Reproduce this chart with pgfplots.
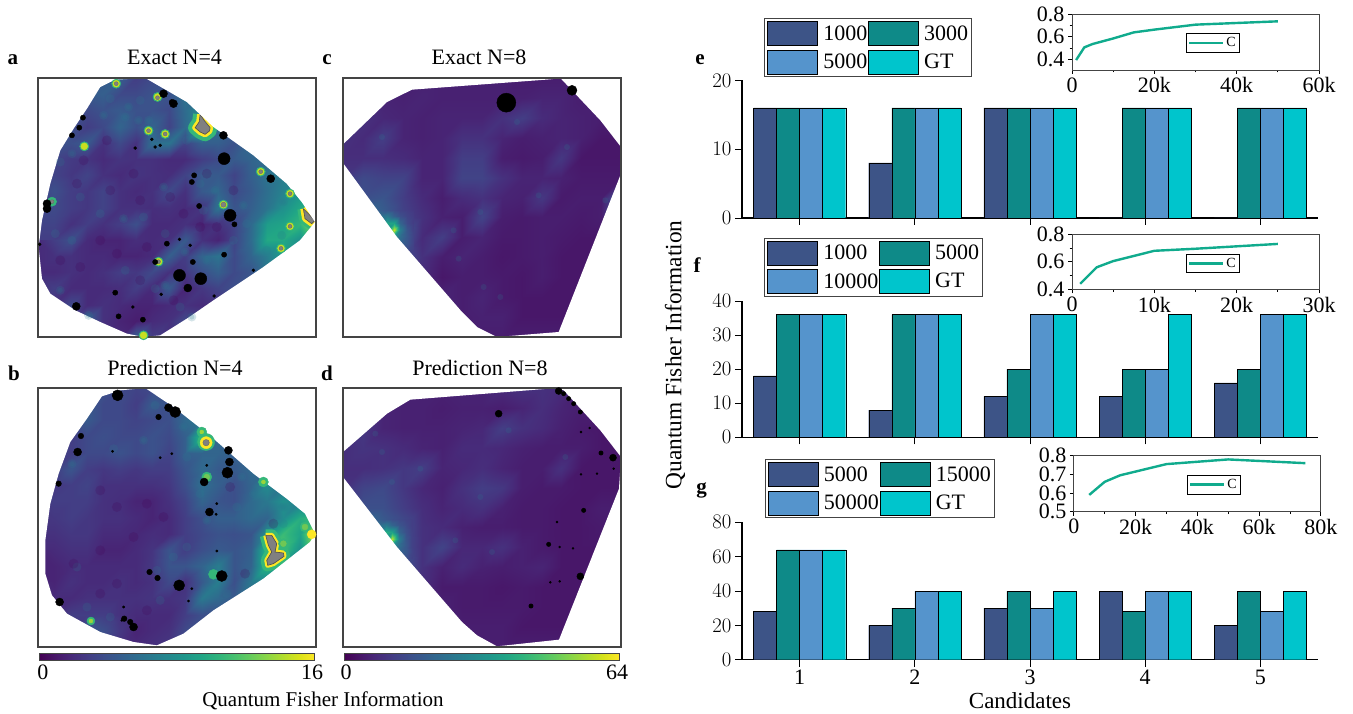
\documentclass[border=0pt]{standalone}
\usepackage{fontspec}
\setmainfont{Liberation Serif}
\usepackage{pgfplots}
\pgfplotsset{compat=1.18}
\newcommand\fa{\fontsize{22}{24}\selectfont}
\newcommand\fc{\fontsize{21}{23}\selectfont}
\newcommand\fb{\fontsize{21}{23}\selectfont\bfseries}
\definecolor{b1}{HTML}{3D5487}
\definecolor{b2}{HTML}{0E8A88}
\definecolor{b3}{HTML}{5594CC}
\definecolor{b4}{HTML}{00C5CC}
\definecolor{ln}{HTML}{10AB8D}
\definecolor{frm}{HTML}{444444}
\definecolor{hg}{HTML}{35B779}
\definecolor{hy}{HTML}{C8E020}
\definecolor{hb}{HTML}{FDE725}
\definecolor{gr}{HTML}{808080}
\definecolor{lt}{HTML}{2A788E}
\definecolor{dk}{HTML}{440154}
\pgfplotsset{
  mapbase/.style={scale only axis,width=278pt,height=259pt,y dir=reverse,
    xtick=\empty,ytick=\empty,axis on top,colormap/viridis,point meta min=0,point meta max=100,
    axis line style={frm,line width=1.2pt},ymin=113,ymax=890},
  mapab/.style={mapbase,xmin=113,xmax=948},
  mapcd/.style={mapbase,xmin=68,xmax=902},
  cbar/.style={colorbar horizontal,colorbar style={at={(0.0054,-0.0232)},anchor=north west,
     scale only axis,width=275pt,height=7pt,xtick={#1},xticklabels={},
     axis line style={frm,line width=.8pt},xtick style={draw=none}}},
  grid18/.style={surf,shader=interp,mesh/cols=18,forget plot},
  grid15/.style={surf,shader=interp,mesh/cols=15,forget plot},
  grid7/.style={surf,shader=interp,mesh/cols=7,forget plot},
  blk/.style={only marks,mark=*,black,mark size=#1,forget plot},
  soft/.style 2 args={only marks,mark=*,forget plot,mark size=#2,mark options={draw opacity=0,fill=#1,fill opacity=.2}},
  mask/.style={fill=white,draw=none,even odd rule,forget plot},
  hot/.style 2 args={only marks,mark=*,forget plot,mark size=#1,mark options={draw=#2,fill=#2}},
  barax/.style={scale only axis,width=576pt,xmin=.5,xmax=5.5,xtick={1,2,3,4,5},
    axis x line*=bottom,axis y line*=left,tick align=outside,
    axis line style={-,line width=1.1pt},tick style={black,line width=.8pt},
    major tick length=7pt,
    tick label style={font=\fa},
    ybar=0pt,bar width=23.05pt,ymin=0,enlarge x limits=false,
    legend columns=2,legend cell align=left,
    legend image code/.code={\draw[##1,line width=.8pt] (0pt,-12pt) rectangle (50pt,12pt);\path (54pt,0pt) -- (54pt,0pt);},
    legend style={font=\fa,draw=frm,line width=1pt,inner sep=2.5pt,anchor=north west,
      nodes={inner xsep=1pt,inner ysep=0pt},row sep=3.5pt,column sep=0pt}},
  ser1/.style={fill=b1,draw=black},
  ser2/.style={fill=b2,draw=black},
  ser3/.style={fill=b3,draw=black},
  ser4/.style={fill=b4,draw=black},
  inset/.style={scale only axis,axis line style={frm,line width=.9pt},
    tick align=outside,major tick length=4pt,minor tick length=2.5pt,tick style={black,line width=.7pt},
    xtick pos=bottom,ytick pos=left,
    tick label style={font=\fa},
    yticklabel style={inner ysep=0pt},
    legend image code/.code={\draw[##1] (0pt,0pt) -- (34pt,0pt);},
    legend style={font=\fontsize{14}{15}\selectfont,draw=black,line width=.8pt,inner xsep=2pt,inner ysep=2pt,anchor=north west}},
  curve/.style={ln,line width=2.4pt,no marks},
}
\begin{document}
\begin{tikzpicture}[x=1pt,y=1pt]
\path[use as bounding box] (0,0) rectangle (1353,713);
% ---------- panel a
\begin{axis}[mapab,at={(38pt,376pt)},anchor=south west]
\addplot[grid18,point meta=\thisrowno{0}] table[header=false,row sep=\\,
  x expr={113+49.118*mod(\coordindex,18)},y expr={113+48.5625*floor(\coordindex/18)}] {
22\\22\\22\\25\\28\\30\\18\\22\\25\\30\\30\\30\\30\\30\\30\\30\\30\\30\\
22\\22\\25\\28\\30\\22\\22\\25\\25\\38\\35\\32\\30\\30\\30\\30\\30\\30\\
22\\22\\25\\22\\25\\28\\25\\25\\22\\35\\48\\40\\32\\30\\30\\30\\30\\30\\
22\\22\\24\\18\\22\\32\\24\\32\\20\\34\\72\\35\\28\\30\\30\\30\\30\\30\\
22\\25\\24\\28\\14\\22\\14\\36\\38\\20\\30\\30\\25\\34\\35\\35\\35\\35\\
20\\20\\17\\15\\12\\15\\14\\14\\12\\12\\18\\22\\28\\32\\36\\38\\38\\38\\
20\\20\\16\\20\\14\\12\\15\\14\\13\\20\\28\\28\\20\\30\\38\\42\\45\\45\\
20\\24\\18\\16\\20\\14\\12\\14\\22\\14\\28\\32\\22\\28\\36\\44\\52\\55\\
20\\22\\18\\16\\20\\14\\14\\13\\14\\12\\15\\38\\26\\30\\38\\50\\60\\80\\
20\\20\\14\\18\\14\\18\\24\\12\\12\\14\\10\\14\\20\\34\\55\\58\\66\\90\\
18\\18\\24\\12\\10\\10\\13\\12\\14\\28\\14\\10\\20\\35\\60\\60\\50\\50\\
12\\14\\14\\12\\12\\10\\10\\12\\30\\18\\32\\38\\22\\32\\42\\55\\50\\50\\
12\\12\\14\\12\\14\\18\\16\\22\\14\\16\\24\\30\\22\\26\\40\\40\\40\\40\\
12\\18\\12\\12\\12\\13\\18\\12\\28\\10\\16\\20\\24\\25\\30\\35\\35\\35\\
14\\14\\22\\12\\14\\12\\10\\10\\12\\14\\12\\14\\18\\22\\25\\30\\30\\30\\
14\\14\\20\\30\\14\\10\\8\\12\\14\\22\\25\\20\\20\\20\\20\\20\\20\\20\\
14\\14\\20\\25\\14\\12\\30\\18\\14\\20\\20\\20\\20\\20\\20\\20\\20\\20\\
};
% texture
\addplot[soft={lt}{4.5}] coordinates {(375,230)(385,200)(415,240)(445,240)(310,225)(420,180)(330,175)(215,340)(180,365)(490,440)(370,535)(430,530)(165,580)(215,600)(375,690)(180,750)(265,825)(495,580)(555,635)(620,660)(645,450)(730,495)(740,550)(610,510)(495,735)(465,745)(575,830)(850,485)(845,585)(800,630)(240,470)(300,520)(560,300)(600,430)(700,600)(540,800)};
\addplot[soft={lt}{2.5}] coordinates {(375,230)(385,200)(415,240)(445,240)(310,225)(215,340)(490,440)(370,535)(555,635)(620,660)(645,450)(730,495)(495,735)(575,830)(850,485)(180,750)(265,825)};
\addplot[soft={dk}{5}] coordinates {(250,360)(320,300)(400,400)(330,450)(420,480)(510,470)(300,600)(440,620)(350,640)(240,680)(420,720)(520,780)(600,560)(650,560)(620,400)(230,430)(550,520)(180,660)(700,450)};
% halos
\addplot[hot={4.6}{hg}] coordinates {(348,130)(472,170)(445,271)(495,281)(155,484)(782,394)(870,460)(670,493)(870,558)(843,624)(475,664)(252,318)(430,885)};
\addplot[hot={3.4}{hy}] coordinates {(348,130)(472,170)(445,271)(495,281)(782,394)(870,460)(670,493)(870,558)(843,624)(475,664)(252,318)(430,885)};
\addplot[only marks,mark=*,forget plot,mark size=2,mark options={draw=black!60,fill=gr,line width=.3pt}] coordinates {(348,130)(472,172)(445,271)(495,281)(155,484)(782,394)(870,460)(870,558)(843,624)(475,664)};
\addplot[only marks,mark=*,forget plot,mark size=2.6,mark options={draw=black!60,fill=gr,line width=.3pt}] coordinates {(670,493)};
\addplot[forget plot,draw=hg,line width=14pt,line join=round,fill=hg] coordinates {(600,222)(612,240)(630,262)(628,272)(615,282)(600,275)(585,262)(597,245)(600,222)};
\addplot[forget plot,draw=hb,line width=6pt,line join=round] coordinates {(600,222)(612,240)(630,262)(628,272)(615,282)(600,275)(585,262)(597,245)(600,222)};
\addplot[forget plot,draw=black!70,line width=.6pt,fill=gr] coordinates {(600,222)(612,240)(630,262)(628,272)(615,282)(600,275)(585,262)(597,245)(600,222)};
\addplot[forget plot,draw=hg,line width=12pt,line join=round,fill=hg] coordinates {(910,505)(925,520)(945,540)(935,550)(915,535)(910,505)};
\addplot[forget plot,draw=hb,line width=6pt,line join=round] coordinates {(910,505)(925,520)(945,540)(935,550)(915,535)(910,505)};
\addplot[forget plot,draw=black!70,line width=.6pt,fill=gr] coordinates {(910,505)(925,520)(945,540)(935,550)(915,535)(910,505)};
% black spots
\addplot[blk=1.5] coordinates {(405,323)(455,297)(480,315)(465,320)(398,800)(483,762)(642,767)(760,690)(570,615)(118,612)(668,285)(538,597)};
\addplot[blk=2.6] coordinates {(515,185)(248,232)(237,262)(215,285)(582,405)(575,425)(597,497)(703,552)(500,610)(578,665)(672,643)(345,757)(355,828)(428,838)(465,665)(815,415)};
\addplot[blk=4] coordinates {(490,160)(228,798)(563,743)(140,490)(140,505)(670,285)(812,415)(520,190)};
\addplot[blk=6] coordinates {(672,355)(538,705)(602,715)(690,525)};
\addplot[mask] coordinates {(113,113)(948,113)(948,890)(113,890)(113,113)(300,140)(345,118)(435,113)(560,185)(640,260)(760,345)(860,430)(905,485)(945,545)(900,600)(790,680)(640,780)(560,835)(480,885)(430,890)(380,880)(300,845)(225,810)(150,760)(125,715)(115,620)(125,540)(150,430)(180,330)(220,265)(260,205)(300,140)(113,113)};
\end{axis}
% ---------- panel b
\begin{axis}[mapab,at={(38pt,66pt)},anchor=south west,cbar={1.3,98.8}]
\addplot[grid18,point meta=\thisrowno{0}] table[header=false,row sep=\\,
  x expr={113+49.118*mod(\coordindex,18)},y expr={113+48.5625*floor(\coordindex/18)}] {
15\\15\\20\\25\\25\\22\\20\\22\\22\\22\\25\\25\\25\\25\\25\\25\\25\\25\\
18\\18\\22\\28\\22\\22\\18\\28\\25\\28\\28\\25\\25\\25\\25\\25\\25\\25\\
20\\20\\22\\28\\22\\22\\20\\22\\24\\34\\40\\30\\25\\25\\25\\25\\25\\25\\
20\\20\\18\\22\\24\\22\\22\\25\\22\\30\\70\\34\\28\\28\\28\\28\\28\\28\\
20\\20\\18\\22\\22\\25\\22\\25\\20\\30\\32\\32\\30\\34\\30\\30\\30\\30\\
18\\18\\26\\18\\16\\18\\16\\18\\18\\26\\34\\28\\28\\34\\36\\36\\36\\36\\
16\\16\\18\\20\\14\\14\\14\\14\\16\\24\\36\\30\\24\\32\\48\\38\\38\\38\\
18\\18\\18\\18\\14\\13\\10\\10\\14\\20\\32\\26\\24\\34\\40\\50\\42\\42\\
16\\16\\18\\16\\14\\14\\12\\10\\12\\18\\24\\30\\30\\34\\32\\48\\62\\70\\
14\\14\\16\\16\\12\\12\\11\\13\\12\\18\\22\\25\\24\\26\\50\\68\\58\\92\\
12\\12\\14\\14\\10\\10\\12\\15\\26\\18\\24\\28\\26\\30\\68\\70\\50\\50\\
10\\10\\12\\12\\12\\12\\12\\16\\26\\26\\32\\42\\26\\32\\66\\50\\45\\45\\
10\\10\\14\\12\\12\\14\\12\\14\\22\\14\\28\\42\\24\\40\\45\\45\\45\\45\\
12\\12\\12\\14\\14\\14\\14\\15\\14\\16\\40\\34\\28\\32\\35\\35\\35\\35\\
14\\14\\18\\18\\18\\14\\12\\12\\12\\18\\24\\24\\24\\24\\24\\24\\24\\24\\
14\\14\\14\\28\\24\\16\\10\\12\\14\\22\\22\\22\\22\\22\\22\\22\\22\\22\\
14\\14\\14\\22\\20\\14\\12\\14\\16\\20\\20\\20\\20\\20\\20\\20\\20\\20\\
};
\addplot[soft={lt}{4.5}] coordinates {(215,340)(430,270)(340,295)(465,165)(550,230)(560,320)(600,430)(710,470)(620,510)(560,590)(520,620)(470,660)(630,660)(630,720)(680,730)(480,750)(260,770)(330,800)(230,650)(850,470)(725,380)(850,520)(760,430)};
\addplot[soft={lt}{2.5}] coordinates {(215,340)(430,270)(550,230)(620,510)(630,720)(850,470)(725,380)(760,430)(630,660)};
\addplot[soft={dk}{5}] coordinates {(300,420)(350,470)(440,460)(300,600)(400,560)(220,640)(350,700)(300,730)(440,780)(490,500)(690,410)(820,520)(735,670)};
\addplot[hot={5}{hg}] coordinates {(620,380)(790,395)(640,672)(605,245)(850,580)(915,530)};
\addplot[hot={3}{hg!60!hy}] coordinates {(620,380)(850,580)(915,530)};
\addplot[hot={4}{hg}] coordinates {(272,812)};
\addplot[hot={2}{hy!70!hg}] coordinates {(272,812)(790,395)(605,245)};
\addplot[hot={4.5}{hb}] coordinates {(935,552)};
\addplot[hot={8.5}{hg}] coordinates {(618,275)};
\addplot[hot={6}{hb}] coordinates {(618,277)};
\addplot[only marks,mark=*,forget plot,mark size=3.2,mark options={draw=black!60,fill=gr,line width=.4pt}] coordinates {(618,277)};
\addplot[forget plot,draw=hg,line width=12pt,line join=round] coordinates {(797,555)(815,555)(830,580)(825,605)(850,608)(852,618)(820,640)(803,645)(800,630)(815,605)(805,585)(797,555)};
\addplot[forget plot,draw=hb,line width=5pt,line join=round] coordinates {(797,555)(815,555)(830,580)(825,605)(850,608)(852,618)(820,640)(803,645)(800,630)(815,605)(805,585)(797,555)};
\addplot[forget plot,draw=black!70,line width=.6pt,fill=gr] coordinates {(797,555)(815,555)(830,580)(825,605)(850,608)(852,618)(820,640)(803,645)(800,630)(815,605)(805,585)(797,555)};
\addplot[blk=1.2] coordinates {(337,303)(480,322)(515,310)(370,770)(565,752)(650,602)(650,460)(648,492)(575,715)(365,810)(620,345)};
\addplot[blk=2.8] coordinates {(475,200)(242,257)(175,400)(448,665)(472,683)(372,805)(390,815)};
\addplot[blk=4] coordinates {(505,172)(232,305)(685,300)(688,335)(612,395)(628,485)(400,830)(178,755)};
\addplot[blk=5.5] coordinates {(352,135)(525,185)(682,367)(665,677)(537,705)};
\addplot[mask] coordinates {(113,113)(948,113)(948,890)(113,890)(113,113)(305,138)(360,120)(435,113)(520,170)(590,225)(640,265)(760,370)(860,445)(915,490)(945,550)(930,575)(790,685)(640,780)(550,850)(470,885)(400,875)(300,845)(200,790)(155,735)(135,670)(135,570)(150,460)(175,370)(210,275)(260,205)(305,138)(113,113)};
\end{axis}
% ---------- panel c
\begin{axis}[mapcd,at={(343pt,376pt)},anchor=south west]
\addplot[grid15,point meta=\thisrowno{0}] table[header=false,row sep=\\,
  x expr={68+59.571*mod(\coordindex,15)},y expr={113+59.77*floor(\coordindex/15)}] {
10\\10\\9\\9\\9\\9\\9\\9\\9\\8\\8\\8\\8\\8\\8\\
10\\10\\10\\9\\10\\9\\9\\9\\9\\9\\10\\10\\8\\8\\8\\
12\\14\\11\\10\\9\\10\\10\\10\\14\\18\\12\\10\\9\\8\\8\\
14\\12\\18\\10\\9\\10\\14\\14\\10\\8\\9\\10\\9\\6\\6\\
13\\13\\13\\12\\10\\10\\18\\18\\8\\7\\8\\16\\6\\6\\6\\
16\\22\\20\\20\\10\\10\\20\\20\\14\\10\\10\\9\\7\\7\\7\\
18\\24\\26\\18\\12\\8\\12\\14\\10\\9\\16\\7\\8\\8\\30\\
20\\36\\30\\20\\14\\9\\8\\20\\8\\7\\8\\8\\7\\8\\10\\
22\\30\\34\\28\\12\\18\\8\\10\\7\\7\\8\\7\\6\\6\\6\\
18\\22\\24\\24\\14\\8\\10\\8\\6\\7\\8\\6\\6\\6\\6\\
14\\16\\18\\20\\12\\6\\8\\8\\7\\6\\8\\6\\6\\6\\6\\
10\\12\\14\\18\\16\\10\\8\\10\\7\\6\\6\\6\\6\\6\\6\\
10\\10\\12\\12\\14\\12\\8\\9\\9\\6\\6\\6\\6\\6\\6\\
10\\10\\10\\10\\10\\10\\8\\8\\8\\8\\8\\8\\8\\8\\8\\
};
\addplot[grid7,point meta=\thisrowno{0}] table[header=false,row sep=\\,
  x expr={160+20*mod(\coordindex,7)},y expr={508+20*floor(\coordindex/7)}] {
30\\29\\26\\23\\20\\18\\16\\
33\\36\\40\\30\\24\\20\\17\\
33\\40\\58\\58\\32\\22\\17\\
32\\38\\48\\92\\42\\26\\18\\
32\\34\\38\\52\\36\\27\\19\\
30\\31\\31\\36\\32\\26\\19\\
27\\27\\27\\27\\26\\23\\18\\
};
\addplot[soft={lt}{3}] coordinates {(185,290)(400,570)(480,515)(655,465)(855,480)(590,245)(740,320)(490,740)(540,770)(415,655)};
\addplot[blk=9.5] coordinates {(558,187)};
\addplot[blk=5] coordinates {(755,150)};
\addplot[mask] coordinates {(68,113)(902,113)(902,890)(68,890)(68,113)(275,148)(690,117)(720,113)(840,240)(902,320)(900,405)(715,875)(530,890)(470,860)(425,815)(230,590)(68,368)(68,312)(200,185)(275,148)(68,113)};
\end{axis}
% ---------- panel d
\begin{axis}[mapcd,at={(343pt,66pt)},anchor=south west,cbar={1.3,98.8}]
\addplot[grid15,point meta=\thisrowno{0}] table[header=false,row sep=\\,
  x expr={68+59.571*mod(\coordindex,15)},y expr={113+59.77*floor(\coordindex/15)}] {
10\\10\\9\\9\\9\\9\\10\\10\\12\\14\\14\\12\\8\\8\\8\\
11\\11\\10\\9\\9\\8\\9\\9\\8\\10\\13\\10\\8\\8\\8\\
12\\16\\10\\9\\9\\9\\10\\11\\18\\14\\12\\9\\7\\6\\6\\
13\\15\\14\\12\\10\\9\\12\\12\\11\\9\\8\\8\\8\\6\\6\\
13\\13\\14\\16\\18\\10\\11\\13\\10\\8\\8\\14\\6\\6\\6\\
14\\20\\22\\16\\11\\9\\14\\18\\16\\8\\7\\7\\6\\6\\6\\
16\\24\\24\\18\\13\\10\\12\\14\\9\\7\\7\\6\\6\\8\\8\\
22\\38\\30\\24\\14\\12\\9\\8\\8\\7\\7\\6\\6\\7\\7\\
22\\28\\30\\24\\14\\20\\11\\11\\14\\9\\7\\6\\6\\6\\6\\
18\\22\\22\\26\\14\\9\\12\\9\\8\\9\\10\\6\\6\\6\\6\\
14\\16\\18\\22\\13\\7\\7\\7\\6\\7\\6\\6\\6\\6\\6\\
10\\12\\14\\18\\14\\9\\7\\7\\7\\7\\6\\6\\6\\6\\6\\
10\\10\\12\\12\\14\\11\\8\\8\\8\\6\\6\\6\\6\\6\\6\\
10\\10\\10\\10\\10\\10\\8\\8\\8\\8\\8\\8\\8\\8\\8\\
};
\addplot[grid7,point meta=\thisrowno{0}] table[header=false,row sep=\\,
  x expr={156+20*mod(\coordindex,7)},y expr={505+20*floor(\coordindex/7)}] {
31\\29\\26\\24\\22\\20\\18\\
35\\36\\40\\32\\26\\22\\18\\
34\\40\\62\\58\\32\\24\\19\\
30\\36\\48\\90\\42\\26\\19\\
29\\32\\38\\52\\36\\27\\19\\
27\\29\\31\\36\\32\\27\\20\\
24\\24\\25\\26\\26\\24\\19\\
};
\addplot[soft={lt}{3}] coordinates {(185,305)(165,250)(565,240)(215,395)(735,320)(480,440)(300,355)(405,570)(515,605)};
\addplot[blk=3.5] coordinates {(535,190)(715,122)(878,322)(780,678)};
\addplot[blk=2.2] coordinates {(780,185)(842,308)(790,480)(685,582)(730,130)(745,145)(760,160)(632,767)};
\addplot[blk=1] coordinates {(710,515)(718,590)(758,594)(690,696)(718,693)(782,245)(808,233)(880,355)(782,372)(830,370)};
\addplot[mask] coordinates {(68,113)(902,113)(902,890)(68,890)(68,113)(270,148)(710,113)(730,120)(840,240)(902,320)(896,415)(716,868)(530,888)(470,855)(425,815)(230,590)(68,380)(68,305)(200,190)(270,148)(68,113)};
\end{axis}
% colourbar labels, titles
\node[font=\fa] at (43,41) {0};
\node[font=\fa] at (312,41) {16};
\node[font=\fa] at (346,41) {0};
\node[font=\fa] at (617,41) {64};
\node[font=\fc] at (323,12) {Quantum Fisher Information};
\node[font=\fa] at (174.5,656) {Exact N=4};
\node[font=\fa] at (175,345) {Prediction N=4};
\node[font=\fa] at (479,656) {Exact N=8};
\node[font=\fa] at (480,345) {Prediction N=8};
\node[font=\fb] at (13,653) {a};
\node[font=\fb] at (14,340) {b};
\node[font=\fb] at (327,653) {c};
\node[font=\fb] at (327,340) {d};
\node[font=\fb] at (700,653) {e};
\node[font=\fb] at (697,448) {f};
\node[font=\fb] at (701.5,223) {g};
\node[font=\fontsize{23.4}{25}\selectfont,rotate=90] at (675,358) {Quantum Fisher Information};
\node[font=\fontsize{23}{25}\selectfont] at (1020,12) {Candidates};
% ---------- panel e
\begin{axis}[barax,at={(742pt,495pt)},anchor=south west,height=137.5pt,ymax=20,ytick={0,10,20},xticklabels={},
  legend style={at={(0.0389,1.452)}}]
\addplot[ser1] coordinates {(1,16)(2,8)(3,16)(4,0)(5,0)};\addlegendentry{1000}
\addplot[ser2] coordinates {(1,16)(2,16)(3,16)(4,16)(5,16)};\addlegendentry{3000}
\addplot[ser3] coordinates {(1,16)(2,16)(3,16)(4,16)(5,16)};\addlegendentry{5000}
\addplot[ser4] coordinates {(1,16)(2,16)(3,16)(4,16)(5,16)};\addlegendentry{GT}
\end{axis}
\begin{axis}[inset,at={(1072pt,643pt)},anchor=south west,width=247pt,height=55.3pt,xmin=0,xmax=60000,ymin=.3,ymax=.8,
  xtick={0,20000,40000,60000},xticklabels={0,20k,40k,60k},minor xtick={10000,30000,50000},
  ytick={.4,.6,.8},yticklabels={0.4,0.6,0.8},minor ytick={.5,.7},scaled x ticks=false,
  legend style={at={(0.46,0.67)}}]
\addplot[curve] coordinates {(1000,.39)(3000,.505)(5000,.535)(10000,.585)(15000,.64)(20000,.665)(30000,.71)(40000,.725)(50000,.74)};\addlegendentry{C}
\end{axis}
% ---------- panel f
\begin{axis}[barax,at={(742pt,275.7pt)},anchor=south west,height=136.3pt,ymax=40,ytick={0,10,20,30,40},xticklabels={},
  legend style={at={(0.0389,1.464)}}]
\addplot[ser1] coordinates {(1,18)(2,8)(3,12)(4,12)(5,16)};\addlegendentry{1000}
\addplot[ser2] coordinates {(1,36)(2,36)(3,20)(4,20)(5,20)};\addlegendentry{5000}
\addplot[ser3] coordinates {(1,36)(2,36)(3,36)(4,20)(5,36)};\addlegendentry{10000}
\addplot[ser4] coordinates {(1,36)(2,36)(3,36)(4,36)(5,36)};\addlegendentry{GT}
\end{axis}
\begin{axis}[inset,at={(1072pt,423.7pt)},anchor=south west,width=247pt,height=55pt,xmin=0,xmax=30000,ymin=.4,ymax=.8,
  xtick={0,10000,20000,30000},xticklabels={0,10k,20k,30k},minor xtick={5000,15000,25000},
  ytick={.4,.6,.8},yticklabels={0.4,0.6,0.8},minor ytick={.5,.7},scaled x ticks=false,
  legend style={at={(0.46,0.65)}}]
\addplot[curve] coordinates {(1000,.44)(3000,.56)(5000,.605)(10000,.68)(15000,.695)(25000,.73)};\addlegendentry{C}
\end{axis}
% ---------- panel g
\begin{axis}[barax,at={(742pt,53.3pt)},anchor=south west,height=137.4pt,ymax=80,ytick={0,20,40,60,80},
  xticklabels={1,2,3,4,5},legend style={at={(0.04,1.4585)}}]
\addplot[ser1] coordinates {(1,28)(2,20)(3,30)(4,40)(5,20)};\addlegendentry{5000}
\addplot[ser2] coordinates {(1,64)(2,30)(3,40)(4,28)(5,40)};\addlegendentry{15000}
\addplot[ser3] coordinates {(1,64)(2,40)(3,30)(4,40)(5,28)};\addlegendentry{50000}
\addplot[ser4] coordinates {(1,64)(2,40)(3,40)(4,40)(5,40)};\addlegendentry{GT}
\end{axis}
\begin{axis}[inset,at={(1073.8pt,201.3pt)},anchor=south west,width=247pt,height=56pt,xmin=0,xmax=80000,ymin=.5,ymax=.8,
  xtick={0,20000,40000,60000,80000},xticklabels={0,20k,40k,60k,80k},minor xtick={10000,30000,50000,70000},
  ytick={.5,.6,.7,.8},yticklabels={0.5,0.6,0.7,0.8},scaled x ticks=false,
  legend style={at={(0.457,0.66)}}]
\addplot[curve] coordinates {(5000,.59)(10000,.66)(15000,.695)(20000,.715)(30000,.755)(50000,.78)(75000,.76)};\addlegendentry{C}
\end{axis}
\end{tikzpicture}
\end{document}
